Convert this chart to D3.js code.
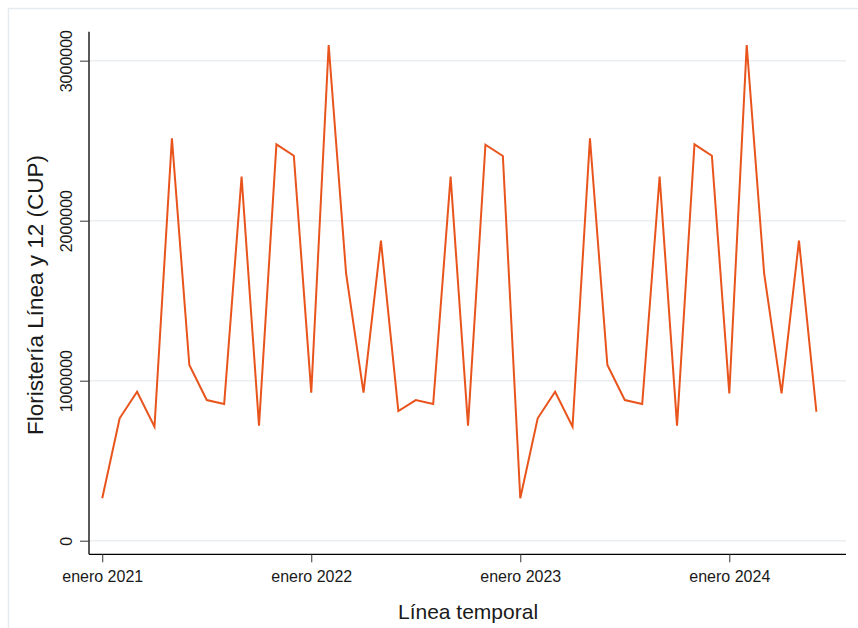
<!DOCTYPE html>
<html>
<head>
<meta charset="utf-8">
<script src="https://cdn.jsdelivr.net/npm/d3@7"></script>
<style>
  html, body { margin: 0; padding: 0; background: #ffffff; }
  svg { display: block; }
  text { font-family: "Liberation Sans", Arial, sans-serif; fill: #1a1a1a; }
</style>
</head>
<body>
<svg id="chart" width="858" height="628"></svg>
<script>
// ---- Data (monthly, enero 2021 .. junio 2024) ----
const months = [
  "2021-01","2021-02","2021-03","2021-04","2021-05","2021-06","2021-07","2021-08","2021-09","2021-10","2021-11","2021-12",
  "2022-01","2022-02","2022-03","2022-04","2022-05","2022-06","2022-07","2022-08","2022-09","2022-10","2022-11","2022-12",
  "2023-01","2023-02","2023-03","2023-04","2023-05","2023-06","2023-07","2023-08","2023-09","2023-10","2023-11","2023-12",
  "2024-01","2024-02","2024-03","2024-04","2024-05","2024-06"
];
const values = [
  265000, 765000, 931000, 712000, 2515000, 1098000, 879000, 854000, 2275000, 719000, 2477000, 2406000,
  925000, 3098000, 1670000, 925000, 1875000, 810000, 879000, 854000, 2275000, 719000, 2475000, 2404000,
  265000, 765000, 931000, 712000, 2515000, 1098000, 879000, 854000, 2275000, 719000, 2477000, 2406000,
  921000, 3098000, 1670000, 921000, 1875000, 806000
];
const xTickIndex = [0, 12, 24, 36];
const xTickLabels = ["enero 2021", "enero 2022", "enero 2023", "enero 2024"];
const yTicks = [0, 1000000, 2000000, 3000000];
const yTitle = "Floristería Línea y 12 (CUP)";
const xTitle = "Línea temporal";

// ---- Layout ----
const svg = d3.select("#chart");
const plot = { left: 89, right: 846, top: 31.7, bottom: 554.3 };

const x = d3.scaleLinear().domain([-0.76, 42.7]).range([plot.left, plot.right]);
const y = d3.scaleLinear().domain([-85000, 3181000]).range([plot.bottom, plot.top]);

// outer frame
svg.append("rect")
  .attr("x", 8.5).attr("y", 8.5).attr("width", 880).attr("height", 660)
  .attr("fill", "none").attr("stroke", "#e6ebf0").attr("stroke-width", 1.5);

// gridlines
svg.append("g").selectAll("line").data(yTicks).join("line")
  .attr("x1", plot.left).attr("x2", plot.right)
  .attr("y1", d => y(d)).attr("y2", d => y(d))
  .attr("stroke", "#eaeef1").attr("stroke-width", 1.5);

// y axis
const yAxis = d3.axisLeft(y).tickValues(yTicks).tickSize(9).tickSizeOuter(0).tickFormat(d3.format("d"));
const gy = svg.append("g").attr("transform", `translate(${plot.left},0)`).call(yAxis);
gy.select(".domain").attr("stroke", "#000").attr("stroke-width", 1.3)
  .attr("d", `M0,${plot.top}V${plot.bottom}`);
gy.selectAll(".tick line").attr("stroke", "#333").attr("stroke-width", 1);
gy.selectAll(".tick text")
  .attr("font-size", 16).attr("fill", "#1a1a1a")
  .attr("text-anchor", "middle")
  .attr("dy", 0)
  .attr("transform", "translate(-17,0) rotate(-90)")
  .attr("x", 0).attr("y", 0);

// x axis
const xAxis = d3.axisBottom(x).tickValues(xTickIndex).tickSize(8).tickSizeOuter(0)
  .tickFormat((d, i) => xTickLabels[i]);
const gx = svg.append("g").attr("transform", `translate(0,${plot.bottom})`).call(xAxis);
gx.select(".domain").attr("stroke", "#000").attr("stroke-width", 1.3)
  .attr("d", `M${plot.left},0H${plot.right}`);
gx.selectAll(".tick line").attr("stroke", "#333").attr("stroke-width", 1);
gx.selectAll(".tick text").attr("font-size", 16).attr("fill", "#1a1a1a").attr("y", 16).attr("dy", "0.71em");

// line
const line = d3.line().x((d, i) => x(i)).y(d => y(d));
svg.append("path").datum(values)
  .attr("d", line)
  .attr("fill", "none")
  .attr("stroke", "#e8541c")
  .attr("stroke-width", 2)
  .attr("stroke-linejoin", "miter");

// titles
svg.append("text")
  .attr("transform", `translate(43,295) rotate(-90)`)
  .attr("text-anchor", "middle").attr("font-size", 22.5).text(yTitle);
svg.append("text")
  .attr("x", 468).attr("y", 619)
  .attr("text-anchor", "middle").attr("font-size", 21).text(xTitle);
</script>
</body>
</html>
